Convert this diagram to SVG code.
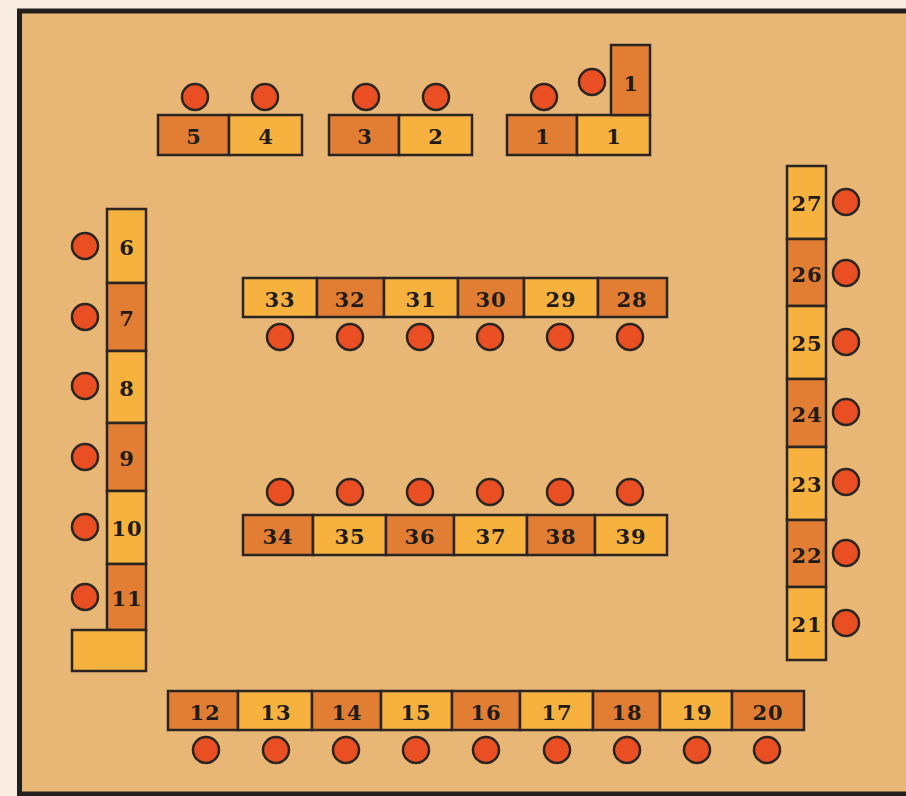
<svg xmlns="http://www.w3.org/2000/svg" width="906" height="796" viewBox="0 0 906 796">
<style>
.l{fill:#f6b13f;stroke:#2a2522;stroke-width:2.5}
.d{fill:#e27e33;stroke:#2a2522;stroke-width:2.5}
.s{fill:#e94f23;stroke:#2a2522;stroke-width:2.5}
text{font-family:"DejaVu Serif","Liberation Serif",serif;font-weight:bold;font-size:21px;fill:#211b17;text-anchor:middle;letter-spacing:1px}
</style>
<rect x="0" y="0" width="906" height="796" fill="#f8ece0"/>
<rect x="19.5" y="11" width="900" height="783" fill="#e8b776" stroke="#231f1d" stroke-width="5"/>
<g id="connectors"/>
<!-- top rows -->
<g id="n5"><rect class="d" x="158" y="115" width="71" height="40"/><text x="194" y="144">5</text></g>
<g id="n4"><rect class="l" x="229" y="115" width="73" height="40"/><text x="266" y="144">4</text></g>
<g id="n3"><rect class="d" x="329" y="115" width="70" height="40"/><text x="365" y="144">3</text></g>
<g id="n2"><rect class="l" x="399" y="115" width="73" height="40"/><text x="436" y="144">2</text></g>
<g id="n1a"><rect class="d" x="507" y="115" width="70" height="40"/><text x="543" y="144">1</text></g>
<g id="n1b"><rect class="l" x="577" y="115" width="73" height="40"/><text x="614" y="144">1</text></g>
<g id="n1c"><rect class="d" x="611" y="45" width="39" height="70"/><text x="631" y="91">1</text></g>
<g id="s5"><circle class="s" cx="195" cy="97" r="13"/></g>
<g id="s4"><circle class="s" cx="265" cy="97" r="13"/></g>
<g id="s3"><circle class="s" cx="366" cy="97" r="13"/></g>
<g id="s2"><circle class="s" cx="436" cy="97" r="13"/></g>
<g id="s1a"><circle class="s" cx="544" cy="97" r="13"/></g>
<g id="s1b"><circle class="s" cx="592" cy="82" r="13"/></g>
<!-- left column -->
<g id="n6"><rect class="l" x="107" y="209" width="39" height="74"/><text x="127" y="255">6</text></g>
<g id="n7"><rect class="d" x="107" y="283" width="39" height="68"/><text x="127" y="326">7</text></g>
<g id="n8"><rect class="l" x="107" y="351" width="39" height="72"/><text x="127" y="396">8</text></g>
<g id="n9"><rect class="d" x="107" y="423" width="39" height="68"/><text x="127" y="466">9</text></g>
<g id="n10"><rect class="l" x="107" y="491" width="39" height="73"/><text x="127" y="536">10</text></g>
<g id="n11"><rect class="d" x="107" y="564" width="39" height="66"/><text x="127" y="606">11</text></g>
<g id="nL"><rect class="l" x="72" y="630" width="74" height="41"/></g>
<g id="s6"><circle class="s" cx="85" cy="246" r="13"/></g>
<g id="s7"><circle class="s" cx="85" cy="317" r="13"/></g>
<g id="s8"><circle class="s" cx="85" cy="386" r="13"/></g>
<g id="s9"><circle class="s" cx="85" cy="457" r="13"/></g>
<g id="s10"><circle class="s" cx="85" cy="527" r="13"/></g>
<g id="s11"><circle class="s" cx="85" cy="597" r="13"/></g>
<!-- right column -->
<g id="n27"><rect class="l" x="787" y="166" width="39" height="73"/><text x="807" y="211">27</text></g>
<g id="n26"><rect class="d" x="787" y="239" width="39" height="67"/><text x="807" y="282">26</text></g>
<g id="n25"><rect class="l" x="787" y="306" width="39" height="73"/><text x="807" y="351">25</text></g>
<g id="n24"><rect class="d" x="787" y="379" width="39" height="68"/><text x="807" y="422">24</text></g>
<g id="n23"><rect class="l" x="787" y="447" width="39" height="73"/><text x="807" y="492">23</text></g>
<g id="n22"><rect class="d" x="787" y="520" width="39" height="67"/><text x="807" y="563">22</text></g>
<g id="n21"><rect class="l" x="787" y="587" width="39" height="73"/><text x="807" y="632">21</text></g>
<g id="s27"><circle class="s" cx="846" cy="202" r="13"/></g>
<g id="s26"><circle class="s" cx="846" cy="273" r="13"/></g>
<g id="s25"><circle class="s" cx="846" cy="342" r="13"/></g>
<g id="s24"><circle class="s" cx="846" cy="412" r="13"/></g>
<g id="s23"><circle class="s" cx="846" cy="482" r="13"/></g>
<g id="s22"><circle class="s" cx="846" cy="553" r="13"/></g>
<g id="s21"><circle class="s" cx="846" cy="623" r="13"/></g>
<!-- middle upper -->
<g id="n33"><rect class="l" x="243" y="278" width="74" height="39"/><text x="280" y="307">33</text></g>
<g id="n32"><rect class="d" x="317" y="278" width="67" height="39"/><text x="350" y="307">32</text></g>
<g id="n31"><rect class="l" x="384" y="278" width="74" height="39"/><text x="421" y="307">31</text></g>
<g id="n30"><rect class="d" x="458" y="278" width="66" height="39"/><text x="491" y="307">30</text></g>
<g id="n29"><rect class="l" x="524" y="278" width="74" height="39"/><text x="561" y="307">29</text></g>
<g id="n28"><rect class="d" x="598" y="278" width="69" height="39"/><text x="632" y="307">28</text></g>
<g id="s33"><circle class="s" cx="280" cy="337" r="13"/></g>
<g id="s32"><circle class="s" cx="350" cy="337" r="13"/></g>
<g id="s31"><circle class="s" cx="420" cy="337" r="13"/></g>
<g id="s30"><circle class="s" cx="490" cy="337" r="13"/></g>
<g id="s29"><circle class="s" cx="560" cy="337" r="13"/></g>
<g id="s28"><circle class="s" cx="630" cy="337" r="13"/></g>
<!-- middle lower -->
<g id="n34"><rect class="d" x="243" y="515" width="70" height="40"/><text x="278" y="544">34</text></g>
<g id="n35"><rect class="l" x="313" y="515" width="73" height="40"/><text x="350" y="544">35</text></g>
<g id="n36"><rect class="d" x="386" y="515" width="68" height="40"/><text x="420" y="544">36</text></g>
<g id="n37"><rect class="l" x="454" y="515" width="73" height="40"/><text x="491" y="544">37</text></g>
<g id="n38"><rect class="d" x="527" y="515" width="68" height="40"/><text x="561" y="544">38</text></g>
<g id="n39"><rect class="l" x="595" y="515" width="72" height="40"/><text x="631" y="544">39</text></g>
<g id="s34"><circle class="s" cx="280" cy="492" r="13"/></g>
<g id="s35"><circle class="s" cx="350" cy="492" r="13"/></g>
<g id="s36"><circle class="s" cx="420" cy="492" r="13"/></g>
<g id="s37"><circle class="s" cx="490" cy="492" r="13"/></g>
<g id="s38"><circle class="s" cx="560" cy="492" r="13"/></g>
<g id="s39"><circle class="s" cx="630" cy="492" r="13"/></g>
<!-- bottom row -->
<g id="n12"><rect class="d" x="168" y="691" width="70" height="39"/><text x="205" y="720">12</text></g>
<g id="n13"><rect class="l" x="238" y="691" width="74" height="39"/><text x="276" y="720">13</text></g>
<g id="n14"><rect class="d" x="312" y="691" width="69" height="39"/><text x="347" y="720">14</text></g>
<g id="n15"><rect class="l" x="381" y="691" width="71" height="39"/><text x="416" y="720">15</text></g>
<g id="n16"><rect class="d" x="452" y="691" width="68" height="39"/><text x="486" y="720">16</text></g>
<g id="n17"><rect class="l" x="520" y="691" width="73" height="39"/><text x="557" y="720">17</text></g>
<g id="n18"><rect class="d" x="593" y="691" width="67" height="39"/><text x="627" y="720">18</text></g>
<g id="n19"><rect class="l" x="660" y="691" width="72" height="39"/><text x="697" y="720">19</text></g>
<g id="n20"><rect class="d" x="732" y="691" width="72" height="39"/><text x="768" y="720">20</text></g>
<g id="s12"><circle class="s" cx="206" cy="750" r="13"/></g>
<g id="s13"><circle class="s" cx="276" cy="750" r="13"/></g>
<g id="s14"><circle class="s" cx="346" cy="750" r="13"/></g>
<g id="s15"><circle class="s" cx="416" cy="750" r="13"/></g>
<g id="s16"><circle class="s" cx="486" cy="750" r="13"/></g>
<g id="s17"><circle class="s" cx="557" cy="750" r="13"/></g>
<g id="s18"><circle class="s" cx="627" cy="750" r="13"/></g>
<g id="s19"><circle class="s" cx="697" cy="750" r="13"/></g>
<g id="s20"><circle class="s" cx="767" cy="750" r="13"/></g>
</svg>
